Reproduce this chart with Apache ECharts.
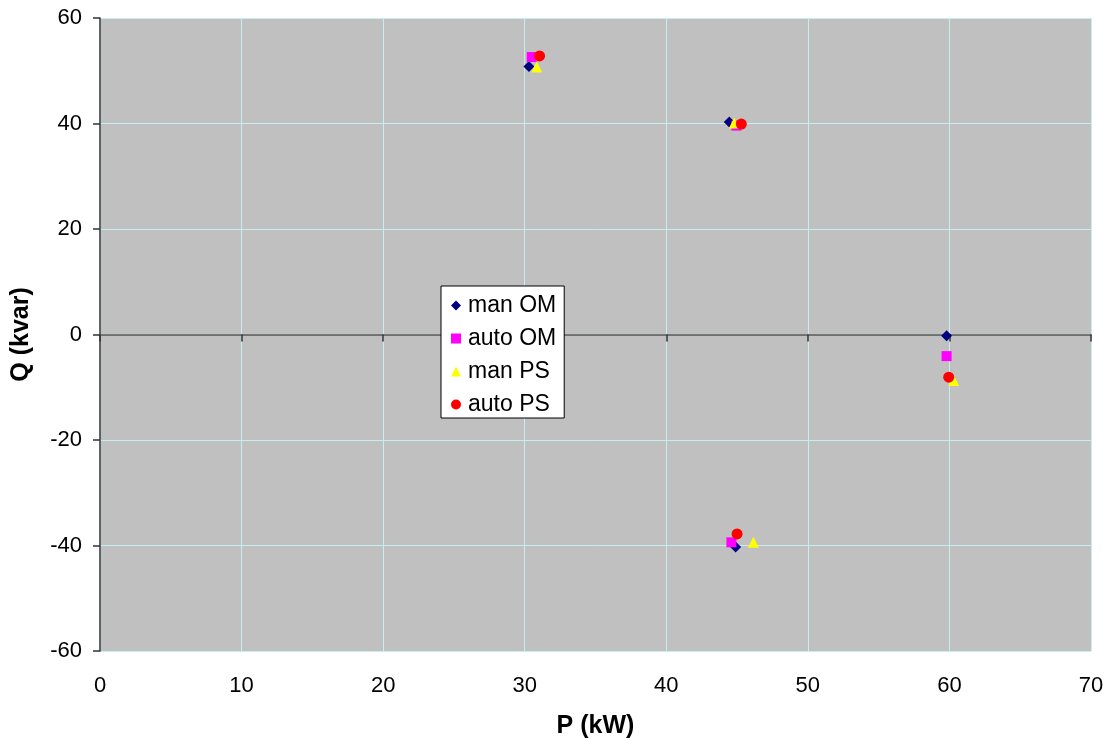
<!DOCTYPE html>
<html>
<head>
<meta charset="utf-8">
<script src="https://cdn.jsdelivr.net/npm/echarts@6/dist/echarts.min.js"></script>
<style>
  html, body { margin: 0; padding: 0; background: #fff; }
  #main { width: 1107px; height: 740px; }
</style>
</head>
<body>
<div id="main"></div>
<script>
// data: [P (kW), Q (kvar)]
const manOM = [[30.3, 50.8], [44.45, 40.3], [59.8, -0.25], [44.9, -40.3]];
const autoOM = [[30.5, 52.6], [44.95, 39.6], [59.8, -4.1], [44.6, -39.4]];
const manPS = [[30.85, 50.7], [44.8, 40.1], [60.3, -8.7], [46.15, -39.4]];
const autoPS = [[31.05, 52.8], [45.3, 39.9], [59.95, -8.1], [45.0, -37.8]];

const seriesNames = ['man OM', 'auto OM', 'man PS', 'auto PS'];
const xTicks = { min: 0, max: 70, interval: 10 };
const yTicks = { min: -60, max: 60, interval: 20 };

const chart = echarts.init(document.getElementById('main'));
const font = 'Liberation Sans, Arial, sans-serif';
const gridColor = '#c6eeee';

const option = {
  animation: false,
  textStyle: { fontFamily: font },
  grid: {
    left: 100, top: 18, right: 16, bottom: 89,
    outerBoundsMode: 'none',
    containLabel: false,
    show: true,
    backgroundColor: '#c0c0c0',
    borderWidth: 0
  },
  legend: {
    orient: 'vertical',
    left: 441, top: 286,
    data: seriesNames,
    backgroundColor: '#fff',
    borderColor: '#000',
    borderWidth: 1,
    borderRadius: 0,
    padding: [8, 8, 2, 10],
    itemWidth: 10,
    itemHeight: 10,
    itemGap: 10,
    textStyle: { fontSize: 23, color: '#000', fontFamily: font, padding: [0, 0, 0, 2] }
  },
  xAxis: [
    {
      type: 'value',
      min: xTicks.min, max: xTicks.max, interval: xTicks.interval,
      position: 'bottom',
      name: 'P (kW)',
      nameLocation: 'middle',
      nameGap: 63,
      nameTextStyle: { fontSize: 25, fontWeight: 'bold', color: '#000' },
      axisLine: { show: false, onZero: false },
      axisTick: { show: false },
      axisLabel: { fontSize: 22, color: '#000', margin: 24 },
      splitLine: { show: true, lineStyle: { color: gridColor, width: 1 } }
    },
    {
      // zero line with ticks, labels stay at the bottom
      type: 'value',
      min: xTicks.min, max: xTicks.max, interval: xTicks.interval,
      position: 'bottom',
      axisLine: { show: true, onZero: true, lineStyle: { color: '#555', width: 1.5 } },
      axisTick: { show: true, length: 7, lineStyle: { color: '#333', width: 1.5 } },
      axisLabel: { show: false },
      splitLine: { show: false }
    }
  ],
  yAxis: {
    type: 'value',
    min: yTicks.min, max: yTicks.max, interval: yTicks.interval,
    name: 'Q (kvar)',
    nameLocation: 'middle',
    nameGap: 66,
    nameTextStyle: { fontSize: 25, fontWeight: 'bold', color: '#000' },
    axisLine: { show: true, onZero: false, lineStyle: { color: '#333', width: 1.5 } },
    axisTick: { show: true, length: 7, lineStyle: { color: '#333', width: 1.5 } },
    axisLabel: { fontSize: 22, color: '#000', margin: 18 },
    splitLine: { show: true, lineStyle: { color: gridColor, width: 1 } }
  },
  series: [
    { name: 'man OM', type: 'scatter', data: manOM, symbol: 'diamond', symbolSize: 11,
      itemStyle: { color: '#000080', opacity: 1 } },
    { name: 'auto OM', type: 'scatter', data: autoOM, symbol: 'rect', symbolSize: 10,
      itemStyle: { color: '#ff00ff', opacity: 1 } },
    { name: 'man PS', type: 'scatter', data: manPS, symbol: 'triangle', symbolSize: 11,
      itemStyle: { color: '#ffff00', opacity: 1 } },
    { name: 'auto PS', type: 'scatter', data: autoPS, symbol: 'circle', symbolSize: 11,
      itemStyle: { color: '#ff0000', opacity: 1 } }
  ]
};

chart.setOption(option);
</script>
</body>
</html>
